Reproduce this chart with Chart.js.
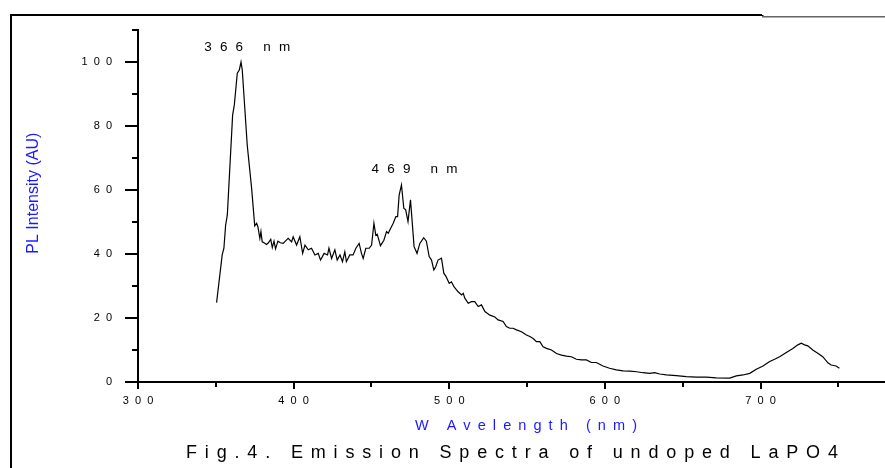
<!DOCTYPE html>
<html>
<head>
<meta charset="utf-8">
<script src="https://cdn.jsdelivr.net/npm/chart.js@4/dist/chart.umd.min.js"></script>
<style>
html,body{margin:0;padding:0;background:#fff;}
#wrap{width:885px;height:468px;position:relative;}
canvas{display:block;}
</style>
</head>
<body>
<div id="wrap"><canvas id="c" width="885" height="468"></canvas></div>
<script>
// ---- data ----
const wavelength = [
  350.5,354.1,355.2,356.3,357.4,360.8,361.9,363.8,365.1,366.2,367.0,370.2,373.0,375.0,376.2,377.0,378.3,379.0,379.8,381.0,
  382.6,383.8,385.3,386.3,387.4,388.4,389.9,391.5,393.3,395.0,396.5,398.7,399.7,401.9,404.0,405.8,407.3,409.4,411.5,413.7,
  415.8,417.3,419.6,421.8,422.7,424.4,426.5,428.0,429.8,431.4,432.9,433.9,436.1,438.2,440.0,442.1,443.6,444.7,446.4,448.6,
  450.1,451.6,452.8,453.7,455.8,458.0,459.7,460.8,462.3,464.0,465.7,466.8,467.8,469.3,470.8,472.0,473.5,475.1,477.4,479.3,
  481.1,483.6,485.3,487.1,488.6,490.1,491.3,492.8,495.0,496.5,497.9,500.0,501.4,503.0,505.7,507.9,509.0,510.0,512.2,514.3,
  516.4,518.6,520.7,522.9,526.1,529.3,531.4,534.6,536.7,538.9,541.0,543.2,546.4,549.6,551.8,553.9,556.0,558.2,560.3,562.5,
  565.7,568.9,572.1,575.3,578.5,581.7,584.9,588.1,591.3,594.5,598.8,603.0,607.4,611.7,616.0,620.3,624.5,628.8,632.0,635.2,
  639.5,645.9,652.3,658.8,665.2,671.6,680.2,684.5,688.8,693.1,697.3,701.6,705.9,709.1,712.3,716.6,720.8,724.0,726.2,728.3,
  730.4,733.6,736.8,740.0,743.3,745.4,748.6,750.7
];
const intensity = [
  24.8,39.7,41.8,49.0,52.2,83.4,86.6,96.5,97.5,100.0,97.5,74.0,60.6,48.8,49.6,48.6,44.9,47.0,43.8,43.5,
  43.0,43.5,44.6,42.0,44.0,41.6,44.0,43.5,43.3,44.2,44.9,43.8,45.4,42.8,45.4,40.2,42.8,41.3,41.8,39.7,
  40.2,38.1,40.2,39.7,41.8,38.6,41.3,38.1,39.7,37.6,40.7,37.6,39.7,39.7,41.8,43.3,40.2,38.6,41.8,41.8,
  42.8,49.6,45.9,46.2,42.6,44.3,47.0,46.5,48.0,49.6,51.7,51.7,58.4,61.6,54.3,53.8,50.1,56.9,42.3,40.2,
  43.3,45.1,44.0,39.2,38.1,35.0,36.0,38.1,38.7,34.0,33.0,30.8,31.3,29.8,28.2,27.2,27.7,26.2,24.6,25.1,
  25.1,23.6,24.1,22.0,20.9,20.3,19.4,18.9,17.3,16.8,16.8,16.3,15.7,14.7,14.2,13.6,12.6,12.6,11.0,10.5,
  10.0,8.9,8.4,8.1,7.9,7.1,6.9,6.9,6.1,6.1,5.0,4.3,3.8,3.5,3.4,3.2,2.9,2.7,2.9,2.5,
  2.2,2.0,1.7,1.5,1.5,1.3,1.2,1.9,2.2,2.7,4.0,5.0,6.4,7.1,7.9,9.2,10.5,11.6,12.1,11.6,
  11.3,10.0,9.0,7.9,6.0,5.3,5.0,4.3
];
const xTickValues = [300, 400, 500, 600, 700];
const xMinorTickValues = [350, 450, 550, 650, 750];
const yTickValues = [0, 20, 40, 60, 80, 100];
const yMinorTickValues = [10, 30, 50, 70, 90, 110];
const peakWavelengths = [366, 469];
const peakLabels = ['366 nm', '469 nm'];
const yAxisTitle = 'PL Intensity (AU)';
const xAxisTitle = 'W Avelength (nm)';
const caption = 'Fig.4. Emission Spectra of undoped LaPO4';

// ---- drawing ----
const FONT = '"Liberation Sans", Arial, Helvetica, sans-serif';
const spaced = v => String(v).split('').join('  ');

function drawSpaced(ctx, text, size, color, xLeft, yBase, targetWidth) {
  ctx.save();
  ctx.font = size + 'px ' + FONT;
  ctx.fillStyle = color;
  ctx.textAlign = 'left';
  ctx.textBaseline = 'alphabetic';
  if ('letterSpacing' in ctx) ctx.letterSpacing = '0px';
  const w = ctx.measureText(text).width;
  const sp = Math.max(0, (targetWidth - w) / (text.length - 1));
  if ('letterSpacing' in ctx) {
    ctx.letterSpacing = sp.toFixed(2) + 'px';
    ctx.fillText(text, xLeft, yBase);
  } else {
    let x = xLeft;
    for (const ch of text) { ctx.fillText(ch, x, yBase); x += ctx.measureText(ch).width + sp; }
  }
  ctx.restore();
}

const decor = {
  id: 'decor',
  afterDraw(chart) {
    const ctx = chart.ctx;
    const xs = chart.scales.x, ys = chart.scales.y;
    const ca = chart.chartArea;
    ctx.save();
    // outer frame
    ctx.fillStyle = '#000';
    ctx.fillRect(10, 14, 752, 2);
    ctx.fillRect(10, 14, 2, 454);
    ctx.fillRect(762, 15, 1.5, 3);
    ctx.fillStyle = '#666';
    ctx.fillRect(762, 16, 123, 1);
    ctx.fillStyle = '#b0b0b0';
    ctx.fillRect(762, 17, 123, 1);

    // tick marks
    ctx.strokeStyle = '#000';
    ctx.lineWidth = 2;
    ctx.beginPath();
    yTickValues.forEach(v => { const p = Math.round(ys.getPixelForValue(v)); ctx.moveTo(ca.left - 13, p); ctx.lineTo(ca.left, p); });
    yMinorTickValues.forEach(v => { const p = Math.round(ys.getPixelForValue(v)); ctx.moveTo(ca.left - 6, p); ctx.lineTo(ca.left, p); });
    xTickValues.forEach(v => { const p = Math.round(xs.getPixelForValue(v)); ctx.moveTo(p, ca.bottom); ctx.lineTo(p, ca.bottom + 7); });
    xMinorTickValues.forEach(v => { const p = Math.round(xs.getPixelForValue(v)); ctx.moveTo(p, ca.bottom); ctx.lineTo(p, ca.bottom + 5); });
    ctx.stroke();

    // peak annotations
    const dxs = [7, 14];
    peakWavelengths.forEach((w, i) => {
      const idx = wavelength.reduce((b, v, j) => Math.abs(v - w) < Math.abs(wavelength[b] - w) ? j : b, 0);
      const cx = xs.getPixelForValue(w) + dxs[i];
      const by = ys.getPixelForValue(intensity[idx]) - 11.5;
      drawSpaced(ctx, peakLabels[i], 13.5, '#000', cx - 43.5, by, 86);
    });

    // axis titles and caption
    ctx.save();
    ctx.translate(38, ys.getPixelForValue(59));
    ctx.rotate(-Math.PI / 2);
    ctx.font = '16px ' + FONT;
    ctx.fillStyle = '#1a1aff';
    ctx.textAlign = 'center';
    ctx.textBaseline = 'alphabetic';
    ctx.fillText(yAxisTitle, 0, 0);
    ctx.restore();

    drawSpaced(ctx, xAxisTitle, 14.5, '#1a1aff', 415, 430, 222);
    drawSpaced(ctx, caption, 18, '#000', 186, 458, 652);
    ctx.restore();
  }
};

new Chart(document.getElementById('c').getContext('2d'), {
  type: 'line',
  data: {
    datasets: [{
      data: wavelength.map((w, i) => ({ x: w, y: intensity[i] })),
      borderColor: '#000',
      borderWidth: 1.2,
      pointRadius: 0,
      tension: 0,
      fill: false
    }]
  },
  options: {
    responsive: false,
    animation: false,
    devicePixelRatio: 1,
    layout: { padding: { top: 30, left: 0, right: 0, bottom: 0 } },
    plugins: { legend: { display: false }, tooltip: { enabled: false } },
    scales: {
      x: {
        type: 'linear', min: 300, max: 780,
        afterBuildTicks: s => { s.ticks = xTickValues.map(v => ({ value: v })); },
        afterFit: s => { s.height = 86; s.paddingLeft = 0; s.paddingRight = 0; },
        grid: { display: false, drawTicks: false },
        border: { display: true, color: '#000', width: 2 },
        ticks: { callback: v => spaced(v), font: { family: FONT, size: 11 }, color: '#000', padding: 12, maxRotation: 0, autoSkip: false }
      },
      y: {
        type: 'linear', min: 0, max: 110,
        afterBuildTicks: s => { s.ticks = yTickValues.map(v => ({ value: v })); },
        afterFit: s => { s.width = 138; s.paddingTop = 0; s.paddingBottom = 0; },
        grid: { display: false, drawTicks: false },
        border: { display: true, color: '#000', width: 2 },
        ticks: { callback: v => spaced(v), font: { family: FONT, size: 11 }, color: '#000', padding: 26, autoSkip: false }
      }
    }
  },
  plugins: [decor]
});
</script>
</body>
</html>
